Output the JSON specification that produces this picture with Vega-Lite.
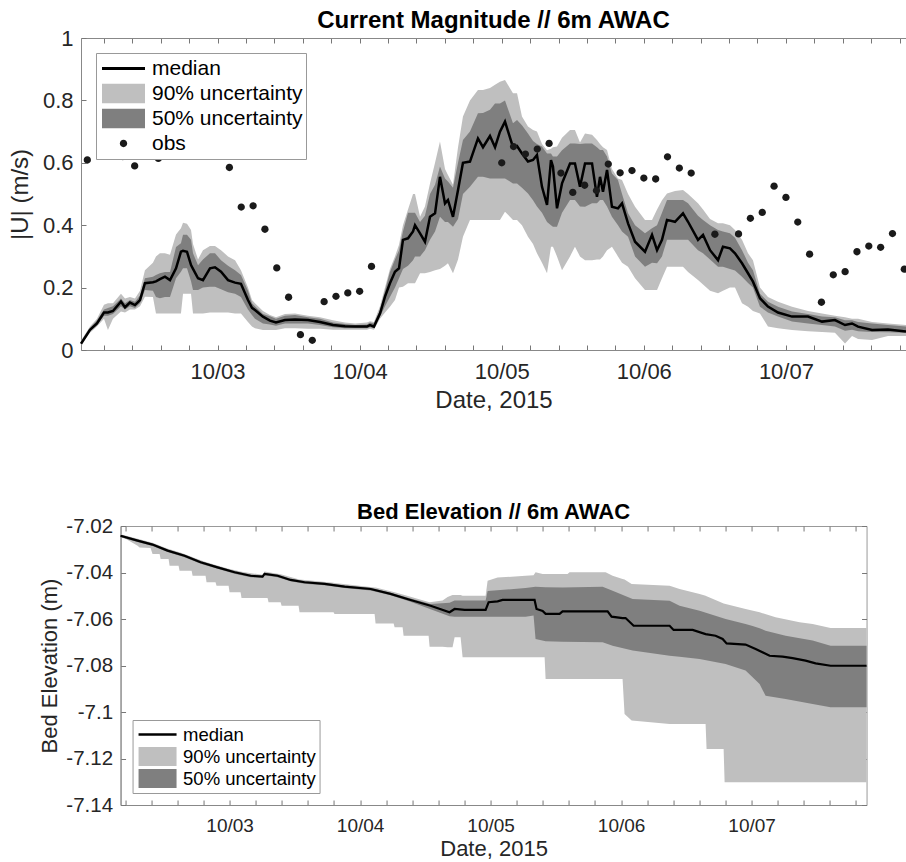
{
"$schema": "https://vega.github.io/schema/vega-lite/v6.json",
"background": "white",
"padding": {"left": 8, "top": 9, "right": 0, "bottom": 0},
"spacing": 88,
"center": true,
"resolve": {"scale": {"color": "independent", "shape": "independent"}, "legend": {"color": "independent", "shape": "independent"}},
"config": {
  "font": "Liberation Sans",
  "axis": {"grid": false, "domainColor": "#888", "tickColor": "#777", "tickWidth": 1, "labelColor": "#262626", "titleColor": "#262626", "titleFontWeight": "normal", "tickSize": -5, "labelFont": "Liberation Sans", "titleFont": "Liberation Sans", "labelOverlap": false, "labelFlush": false, "zindex": 1},
  "legend": {"labelFont": "Liberation Sans", "labelColor": "#000", "labelLimit": 400, "symbolStrokeWidth": 0, "rowPadding": 0, "fillColor": "white", "strokeColor": "#999", "direction": "vertical", "title": null}
},
"datasets": {
"top": [
{"t":"2015-10-02T00:56","med":0.02,"lo90":0.015,"lo50":0.018,"hi50":0.025,"hi90":0.03},
{"t":"2015-10-02T02:27","med":0.065,"lo90":0.055,"lo50":0.06,"hi50":0.07,"hi90":0.075},
{"t":"2015-10-02T03:38","med":0.085,"lo90":0.075,"lo50":0.08,"hi50":0.095,"hi90":0.1},
{"t":"2015-10-02T04:49","med":0.12,"lo90":0.1,"lo50":0.11,"hi50":0.13,"hi90":0.145},
{"t":"2015-10-02T05:29","med":0.12,"lo90":0.064,"lo50":0.11,"hi50":0.135,"hi90":0.15},
{"t":"2015-10-02T06:20","med":0.125,"lo90":0.1,"lo50":0.115,"hi50":0.14,"hi90":0.15},
{"t":"2015-10-02T07:41","med":0.155,"lo90":0.123,"lo50":0.14,"hi50":0.165,"hi90":0.18},
{"t":"2015-10-02T08:22","med":0.137,"lo90":0.12,"lo50":0.13,"hi50":0.15,"hi90":0.165},
{"t":"2015-10-02T09:12","med":0.152,"lo90":0.13,"lo50":0.14,"hi50":0.16,"hi90":0.17},
{"t":"2015-10-02T10:03","med":0.144,"lo90":0.13,"lo50":0.135,"hi50":0.155,"hi90":0.165},
{"t":"2015-10-02T10:54","med":0.16,"lo90":0.14,"lo50":0.15,"hi50":0.175,"hi90":0.19},
{"t":"2015-10-02T11:44","med":0.214,"lo90":0.171,"lo50":0.192,"hi50":0.23,"hi90":0.256},
{"t":"2015-10-02T13:05","med":0.217,"lo90":0.17,"lo50":0.19,"hi50":0.235,"hi90":0.28},
{"t":"2015-10-02T13:36","med":0.22,"lo90":0.117,"lo50":0.17,"hi50":0.24,"hi90":0.3},
{"t":"2015-10-02T14:16","med":0.227,"lo90":0.117,"lo50":0.166,"hi50":0.246,"hi90":0.31},
{"t":"2015-10-02T15:07","med":0.235,"lo90":0.117,"lo50":0.17,"hi50":0.25,"hi90":0.31},
{"t":"2015-10-02T15:58","med":0.224,"lo90":0.117,"lo50":0.17,"hi50":0.25,"hi90":0.305},
{"t":"2015-10-02T16:59","med":0.262,"lo90":0.117,"lo50":0.23,"hi50":0.33,"hi90":0.37},
{"t":"2015-10-02T17:49","med":0.315,"lo90":0.117,"lo50":0.251,"hi50":0.342,"hi90":0.39},
{"t":"2015-10-02T18:10","med":0.318,"lo90":0.18,"lo50":0.262,"hi50":0.369,"hi90":0.408},
{"t":"2015-10-02T18:50","med":0.315,"lo90":0.18,"lo50":0.262,"hi50":0.369,"hi90":0.405},
{"t":"2015-10-02T19:31","med":0.272,"lo90":0.18,"lo50":0.22,"hi50":0.353,"hi90":0.385},
{"t":"2015-10-02T19:51","med":0.26,"lo90":0.117,"lo50":0.192,"hi50":0.31,"hi90":0.34},
{"t":"2015-10-02T20:42","med":0.23,"lo90":0.117,"lo50":0.192,"hi50":0.272,"hi90":0.29},
{"t":"2015-10-02T21:32","med":0.224,"lo90":0.117,"lo50":0.2,"hi50":0.29,"hi90":0.32},
{"t":"2015-10-02T22:43","med":0.262,"lo90":0.12,"lo50":0.203,"hi50":0.31,"hi90":0.333},
{"t":"2015-10-02T23:34","med":0.265,"lo90":0.12,"lo50":0.203,"hi50":0.31,"hi90":0.333},
{"t":"2015-10-03T00:35","med":0.251,"lo90":0.12,"lo50":0.195,"hi50":0.288,"hi90":0.32},
{"t":"2015-10-03T01:46","med":0.224,"lo90":0.12,"lo50":0.185,"hi50":0.27,"hi90":0.3},
{"t":"2015-10-03T02:57","med":0.216,"lo90":0.117,"lo50":0.18,"hi50":0.256,"hi90":0.288},
{"t":"2015-10-03T03:57","med":0.212,"lo90":0.117,"lo50":0.17,"hi50":0.24,"hi90":0.256},
{"t":"2015-10-03T05:08","med":0.16,"lo90":0.09,"lo50":0.13,"hi50":0.19,"hi90":0.2},
{"t":"2015-10-03T05:49","med":0.135,"lo90":0.075,"lo50":0.112,"hi50":0.15,"hi90":0.16},
{"t":"2015-10-03T06:19","med":0.128,"lo90":0.07,"lo50":0.1,"hi50":0.14,"hi90":0.15},
{"t":"2015-10-03T07:40","med":0.107,"lo90":0.064,"lo50":0.085,"hi50":0.115,"hi90":0.125},
{"t":"2015-10-03T08:51","med":0.094,"lo90":0.064,"lo50":0.082,"hi50":0.108,"hi90":0.112},
{"t":"2015-10-03T09:52","med":0.088,"lo90":0.064,"lo50":0.078,"hi50":0.1,"hi90":0.105},
{"t":"2015-10-03T11:23","med":0.096,"lo90":0.07,"lo50":0.085,"hi50":0.11,"hi90":0.115},
{"t":"2015-10-03T13:05","med":0.098,"lo90":0.07,"lo50":0.085,"hi50":0.112,"hi90":0.117},
{"t":"2015-10-03T15:16","med":0.096,"lo90":0.068,"lo50":0.085,"hi50":0.105,"hi90":0.11},
{"t":"2015-10-03T17:18","med":0.09,"lo90":0.068,"lo50":0.08,"hi50":0.1,"hi90":0.105},
{"t":"2015-10-03T19:30","med":0.08,"lo90":0.065,"lo50":0.073,"hi50":0.088,"hi90":0.095},
{"t":"2015-10-03T21:31","med":0.076,"lo90":0.065,"lo50":0.07,"hi50":0.083,"hi90":0.088},
{"t":"2015-10-03T23:13","med":0.075,"lo90":0.065,"lo50":0.07,"hi50":0.08,"hi90":0.085},
{"t":"2015-10-04T01:14","med":0.075,"lo90":0.065,"lo50":0.07,"hi50":0.082,"hi90":0.088},
{"t":"2015-10-04T01:45","med":0.08,"lo90":0.068,"lo50":0.073,"hi50":0.088,"hi90":0.092},
{"t":"2015-10-04T02:25","med":0.075,"lo90":0.065,"lo50":0.07,"hi50":0.085,"hi90":0.09},
{"t":"2015-10-04T03:26","med":0.117,"lo90":0.1,"lo50":0.107,"hi50":0.128,"hi90":0.14},
{"t":"2015-10-04T04:17","med":0.171,"lo90":0.12,"lo50":0.14,"hi50":0.19,"hi90":0.2},
{"t":"2015-10-04T05:07","med":0.214,"lo90":0.139,"lo50":0.17,"hi50":0.25,"hi90":0.26},
{"t":"2015-10-04T05:58","med":0.251,"lo90":0.16,"lo50":0.2,"hi50":0.29,"hi90":0.3},
{"t":"2015-10-04T06:39","med":0.262,"lo90":0.2,"lo50":0.23,"hi50":0.32,"hi90":0.337},
{"t":"2015-10-04T07:19","med":0.353,"lo90":0.203,"lo50":0.26,"hi50":0.38,"hi90":0.4},
{"t":"2015-10-04T08:10","med":0.358,"lo90":0.214,"lo50":0.27,"hi50":0.44,"hi90":0.45},
{"t":"2015-10-04T09:01","med":0.38,"lo90":0.214,"lo50":0.288,"hi50":0.44,"hi90":0.5},
{"t":"2015-10-04T09:21","med":0.4,"lo90":0.214,"lo50":0.3,"hi50":0.44,"hi90":0.5},
{"t":"2015-10-04T10:12","med":0.374,"lo90":0.246,"lo50":0.3,"hi50":0.41,"hi90":0.427},
{"t":"2015-10-04T11:02","med":0.347,"lo90":0.246,"lo50":0.32,"hi50":0.43,"hi90":0.46},
{"t":"2015-10-04T11:53","med":0.427,"lo90":0.25,"lo50":0.353,"hi50":0.5,"hi90":0.534},
{"t":"2015-10-04T12:44","med":0.438,"lo90":0.256,"lo50":0.38,"hi50":0.53,"hi90":0.6},
{"t":"2015-10-04T13:34","med":0.555,"lo90":0.26,"lo50":0.427,"hi50":0.588,"hi90":0.668},
{"t":"2015-10-04T14:25","med":0.47,"lo90":0.27,"lo50":0.41,"hi50":0.55,"hi90":0.58},
{"t":"2015-10-04T14:55","med":0.481,"lo90":0.278,"lo50":0.41,"hi50":0.54,"hi90":0.561},
{"t":"2015-10-04T15:46","med":0.427,"lo90":0.246,"lo50":0.395,"hi50":0.52,"hi90":0.53},
{"t":"2015-10-04T16:37","med":0.513,"lo90":0.29,"lo50":0.42,"hi50":0.6,"hi90":0.65},
{"t":"2015-10-04T17:27","med":0.6,"lo90":0.363,"lo50":0.5,"hi50":0.673,"hi90":0.748},
{"t":"2015-10-04T18:38","med":0.604,"lo90":0.417,"lo50":0.523,"hi50":0.7,"hi90":0.8},
{"t":"2015-10-04T19:59","med":0.678,"lo90":0.417,"lo50":0.555,"hi50":0.759,"hi90":0.833},
{"t":"2015-10-04T20:50","med":0.65,"lo90":0.417,"lo50":0.555,"hi50":0.76,"hi90":0.833},
{"t":"2015-10-04T22:01","med":0.686,"lo90":0.417,"lo50":0.55,"hi50":0.77,"hi90":0.84},
{"t":"2015-10-04T22:52","med":0.65,"lo90":0.417,"lo50":0.55,"hi50":0.79,"hi90":0.85},
{"t":"2015-10-04T23:42","med":0.7,"lo90":0.417,"lo50":0.55,"hi50":0.79,"hi90":0.86},
{"t":"2015-10-05T00:33","med":0.732,"lo90":0.443,"lo50":0.55,"hi50":0.8,"hi90":0.865},
{"t":"2015-10-05T01:54","med":0.65,"lo90":0.417,"lo50":0.534,"hi50":0.727,"hi90":0.823},
{"t":"2015-10-05T02:35","med":0.654,"lo90":0.417,"lo50":0.534,"hi50":0.737,"hi90":0.823},
{"t":"2015-10-05T03:25","med":0.63,"lo90":0.4,"lo50":0.52,"hi50":0.72,"hi90":0.748},
{"t":"2015-10-05T04:26","med":0.604,"lo90":0.363,"lo50":0.502,"hi50":0.694,"hi90":0.716},
{"t":"2015-10-05T05:17","med":0.609,"lo90":0.34,"lo50":0.48,"hi50":0.67,"hi90":0.705},
{"t":"2015-10-05T05:57","med":0.625,"lo90":0.31,"lo50":0.46,"hi50":0.66,"hi90":0.7},
{"t":"2015-10-05T06:48","med":0.523,"lo90":0.28,"lo50":0.44,"hi50":0.652,"hi90":0.66},
{"t":"2015-10-05T07:39","med":0.465,"lo90":0.246,"lo50":0.41,"hi50":0.63,"hi90":0.64},
{"t":"2015-10-05T08:19","med":0.609,"lo90":0.331,"lo50":0.4,"hi50":0.63,"hi90":0.645},
{"t":"2015-10-05T08:39","med":0.588,"lo90":0.331,"lo50":0.395,"hi50":0.62,"hi90":0.65},
{"t":"2015-10-05T09:20","med":0.454,"lo90":0.3,"lo50":0.395,"hi50":0.62,"hi90":0.652},
{"t":"2015-10-05T10:11","med":0.534,"lo90":0.256,"lo50":0.44,"hi50":0.64,"hi90":0.68},
{"t":"2015-10-05T11:32","med":0.598,"lo90":0.3,"lo50":0.481,"hi50":0.662,"hi90":0.705},
{"t":"2015-10-05T12:22","med":0.598,"lo90":0.331,"lo50":0.481,"hi50":0.662,"hi90":0.705},
{"t":"2015-10-05T13:13","med":0.523,"lo90":0.3,"lo50":0.46,"hi50":0.66,"hi90":0.665},
{"t":"2015-10-05T14:04","med":0.598,"lo90":0.288,"lo50":0.459,"hi50":0.662,"hi90":0.694},
{"t":"2015-10-05T15:15","med":0.598,"lo90":0.288,"lo50":0.47,"hi50":0.662,"hi90":0.69},
{"t":"2015-10-05T16:05","med":0.491,"lo90":0.29,"lo50":0.47,"hi50":0.65,"hi90":0.673},
{"t":"2015-10-05T16:36","med":0.555,"lo90":0.29,"lo50":0.481,"hi50":0.641,"hi90":0.66},
{"t":"2015-10-05T17:06","med":0.507,"lo90":0.3,"lo50":0.481,"hi50":0.641,"hi90":0.65},
{"t":"2015-10-05T17:47","med":0.577,"lo90":0.32,"lo50":0.46,"hi50":0.62,"hi90":0.641},
{"t":"2015-10-05T18:37","med":0.459,"lo90":0.331,"lo50":0.427,"hi50":0.566,"hi90":0.58},
{"t":"2015-10-05T19:38","med":0.454,"lo90":0.3,"lo50":0.4,"hi50":0.545,"hi90":0.55},
{"t":"2015-10-05T20:19","med":0.47,"lo90":0.28,"lo50":0.38,"hi50":0.5,"hi90":0.545},
{"t":"2015-10-05T21:20","med":0.406,"lo90":0.267,"lo50":0.363,"hi50":0.438,"hi90":0.5},
{"t":"2015-10-05T22:31","med":0.347,"lo90":0.23,"lo50":0.3,"hi50":0.4,"hi90":0.459},
{"t":"2015-10-06T00:12","med":0.315,"lo90":0.192,"lo50":0.267,"hi50":0.374,"hi90":0.417},
{"t":"2015-10-06T01:23","med":0.369,"lo90":0.192,"lo50":0.28,"hi50":0.39,"hi90":0.417},
{"t":"2015-10-06T02:14","med":0.32,"lo90":0.192,"lo50":0.278,"hi50":0.4,"hi90":0.45},
{"t":"2015-10-06T03:04","med":0.353,"lo90":0.23,"lo50":0.3,"hi50":0.44,"hi90":0.48},
{"t":"2015-10-06T03:55","med":0.417,"lo90":0.267,"lo50":0.353,"hi50":0.481,"hi90":0.502},
{"t":"2015-10-06T05:16","med":0.411,"lo90":0.267,"lo50":0.353,"hi50":0.481,"hi90":0.51},
{"t":"2015-10-06T06:37","med":0.438,"lo90":0.267,"lo50":0.353,"hi50":0.481,"hi90":0.513},
{"t":"2015-10-06T07:28","med":0.411,"lo90":0.25,"lo50":0.353,"hi50":0.47,"hi90":0.5},
{"t":"2015-10-06T09:09","med":0.353,"lo90":0.224,"lo50":0.32,"hi50":0.43,"hi90":0.47},
{"t":"2015-10-06T10:00","med":0.369,"lo90":0.21,"lo50":0.31,"hi50":0.417,"hi90":0.45},
{"t":"2015-10-06T11:11","med":0.32,"lo90":0.19,"lo50":0.29,"hi50":0.4,"hi90":0.42},
{"t":"2015-10-06T12:32","med":0.288,"lo90":0.182,"lo50":0.267,"hi50":0.385,"hi90":0.406},
{"t":"2015-10-06T13:22","med":0.331,"lo90":0.19,"lo50":0.267,"hi50":0.38,"hi90":0.406},
{"t":"2015-10-06T14:33","med":0.326,"lo90":0.2,"lo50":0.26,"hi50":0.374,"hi90":0.4},
{"t":"2015-10-06T15:24","med":0.31,"lo90":0.2,"lo50":0.255,"hi50":0.36,"hi90":0.385},
{"t":"2015-10-06T16:35","med":0.278,"lo90":0.15,"lo50":0.235,"hi50":0.32,"hi90":0.353},
{"t":"2015-10-06T17:36","med":0.246,"lo90":0.139,"lo50":0.215,"hi50":0.28,"hi90":0.31},
{"t":"2015-10-06T18:26","med":0.219,"lo90":0.125,"lo50":0.2,"hi50":0.256,"hi90":0.288},
{"t":"2015-10-06T19:37","med":0.166,"lo90":0.117,"lo50":0.139,"hi50":0.18,"hi90":0.2},
{"t":"2015-10-06T20:58","med":0.139,"lo90":0.075,"lo50":0.12,"hi50":0.155,"hi90":0.17},
{"t":"2015-10-06T22:40","med":0.12,"lo90":0.07,"lo50":0.107,"hi50":0.139,"hi90":0.155},
{"t":"2015-10-07T01:02","med":0.107,"lo90":0.064,"lo50":0.091,"hi50":0.123,"hi90":0.139},
{"t":"2015-10-07T03:44","med":0.107,"lo90":0.06,"lo50":0.085,"hi50":0.115,"hi90":0.125},
{"t":"2015-10-07T06:06","med":0.091,"lo90":0.058,"lo50":0.08,"hi50":0.107,"hi90":0.117},
{"t":"2015-10-07T08:17","med":0.096,"lo90":0.055,"lo50":0.075,"hi50":0.105,"hi90":0.11},
{"t":"2015-10-07T09:59","med":0.08,"lo90":0.021,"lo50":0.062,"hi50":0.095,"hi90":0.105},
{"t":"2015-10-07T11:10","med":0.085,"lo90":0.045,"lo50":0.065,"hi50":0.095,"hi90":0.1},
{"t":"2015-10-07T12:11","med":0.075,"lo90":0.035,"lo50":0.06,"hi50":0.09,"hi90":0.1},
{"t":"2015-10-07T14:33","med":0.064,"lo90":0.032,"lo50":0.058,"hi50":0.085,"hi90":0.09},
{"t":"2015-10-07T17:15","med":0.066,"lo90":0.045,"lo50":0.057,"hi50":0.08,"hi90":0.085},
{"t":"2015-10-07T20:17","med":0.059,"lo90":0.045,"lo50":0.055,"hi50":0.075,"hi90":0.08}
],
"obs": [
{"t":"2015-10-02T02:00","v":0.609},
{"t":"2015-10-02T08:00","v":0.62},
{"t":"2015-10-02T10:00","v":0.59},
{"t":"2015-10-02T14:00","v":0.614},
{"t":"2015-10-03T02:00","v":0.585},
{"t":"2015-10-03T04:00","v":0.458},
{"t":"2015-10-03T06:00","v":0.462},
{"t":"2015-10-03T08:00","v":0.387},
{"t":"2015-10-03T10:00","v":0.263},
{"t":"2015-10-03T12:00","v":0.169},
{"t":"2015-10-03T14:00","v":0.049},
{"t":"2015-10-03T16:00","v":0.031},
{"t":"2015-10-03T18:00","v":0.155},
{"t":"2015-10-03T20:00","v":0.172},
{"t":"2015-10-03T22:00","v":0.183},
{"t":"2015-10-04T00:00","v":0.188},
{"t":"2015-10-04T02:00","v":0.268},
{"t":"2015-10-05T00:00","v":0.6},
{"t":"2015-10-05T02:00","v":0.652},
{"t":"2015-10-05T04:00","v":0.628},
{"t":"2015-10-05T06:00","v":0.644},
{"t":"2015-10-05T08:00","v":0.662},
{"t":"2015-10-05T10:00","v":0.567},
{"t":"2015-10-05T12:00","v":0.505},
{"t":"2015-10-05T14:00","v":0.528},
{"t":"2015-10-05T16:00","v":0.511},
{"t":"2015-10-05T18:00","v":0.596},
{"t":"2015-10-05T20:00","v":0.568},
{"t":"2015-10-05T22:00","v":0.575},
{"t":"2015-10-06T00:00","v":0.551},
{"t":"2015-10-06T02:00","v":0.548},
{"t":"2015-10-06T04:00","v":0.619},
{"t":"2015-10-06T06:00","v":0.583},
{"t":"2015-10-06T08:00","v":0.567},
{"t":"2015-10-06T12:00","v":0.371},
{"t":"2015-10-06T16:00","v":0.372},
{"t":"2015-10-06T18:00","v":0.422},
{"t":"2015-10-06T20:00","v":0.441},
{"t":"2015-10-06T22:00","v":0.525},
{"t":"2015-10-07T00:00","v":0.489},
{"t":"2015-10-07T02:00","v":0.41},
{"t":"2015-10-07T04:00","v":0.307},
{"t":"2015-10-07T06:00","v":0.153},
{"t":"2015-10-07T08:00","v":0.241},
{"t":"2015-10-07T10:00","v":0.251},
{"t":"2015-10-07T12:00","v":0.315},
{"t":"2015-10-07T14:00","v":0.333},
{"t":"2015-10-07T16:00","v":0.329},
{"t":"2015-10-07T18:00","v":0.373},
{"t":"2015-10-07T20:00","v":0.259}
],
"botMed": [
{"t":"2015-10-02T03:57","v":-7.0242},
{"t":"2015-10-02T07:05","v":-7.0263},
{"t":"2015-10-02T09:50","v":-7.028},
{"t":"2015-10-02T12:36","v":-7.0306},
{"t":"2015-10-02T15:43","v":-7.0328},
{"t":"2015-10-02T18:40","v":-7.0356},
{"t":"2015-10-02T21:47","v":-7.0378},
{"t":"2015-10-03T00:55","v":-7.0399},
{"t":"2015-10-03T03:52","v":-7.0414},
{"t":"2015-10-03T06:04","v":-7.0418},
{"t":"2015-10-03T06:26","v":-7.0406},
{"t":"2015-10-03T08:50","v":-7.0414},
{"t":"2015-10-03T11:13","v":-7.0432},
{"t":"2015-10-03T13:47","v":-7.0442},
{"t":"2015-10-03T17:28","v":-7.0449},
{"t":"2015-10-03T21:09","v":-7.0461},
{"t":"2015-10-04T01:56","v":-7.0471},
{"t":"2015-10-04T05:36","v":-7.0492},
{"t":"2015-10-04T09:17","v":-7.0518},
{"t":"2015-10-04T12:58","v":-7.0543},
{"t":"2015-10-04T16:27","v":-7.0571},
{"t":"2015-10-04T17:23","v":-7.0557},
{"t":"2015-10-04T19:13","v":-7.0561},
{"t":"2015-10-04T23:05","v":-7.0561},
{"t":"2015-10-04T23:38","v":-7.0528},
{"t":"2015-10-05T01:17","v":-7.0524},
{"t":"2015-10-05T02:12","v":-7.0518},
{"t":"2015-10-05T08:05","v":-7.0518},
{"t":"2015-10-05T08:27","v":-7.0557},
{"t":"2015-10-05T09:34","v":-7.0565},
{"t":"2015-10-05T10:07","v":-7.0578},
{"t":"2015-10-05T12:41","v":-7.0578},
{"t":"2015-10-05T13:14","v":-7.0567},
{"t":"2015-10-05T21:31","v":-7.0567},
{"t":"2015-10-05T22:15","v":-7.059},
{"t":"2015-10-06T00:16","v":-7.0596},
{"t":"2015-10-06T00:49","v":-7.0596},
{"t":"2015-10-06T02:18","v":-7.0629},
{"t":"2015-10-06T08:55","v":-7.0629},
{"t":"2015-10-06T09:39","v":-7.0647},
{"t":"2015-10-06T13:09","v":-7.0647},
{"t":"2015-10-06T15:32","v":-7.0665},
{"t":"2015-10-06T17:22","v":-7.0672},
{"t":"2015-10-06T18:40","v":-7.0686},
{"t":"2015-10-06T19:24","v":-7.0705},
{"t":"2015-10-06T22:53","v":-7.071},
{"t":"2015-10-07T00:44","v":-7.0729},
{"t":"2015-10-07T03:18","v":-7.0758},
{"t":"2015-10-07T05:42","v":-7.0762},
{"t":"2015-10-07T07:32","v":-7.0768},
{"t":"2015-10-07T09:55","v":-7.0779},
{"t":"2015-10-07T11:46","v":-7.0791},
{"t":"2015-10-07T14:31","v":-7.0801},
{"t":"2015-10-07T21:08","v":-7.0801}
],
"bot90": [
{"t":"2015-10-02T03:57","lo":-7.0242,"hi":-7.0236},
{"t":"2015-10-02T07:05","lo":-7.0285,"hi":-7.0255},
{"t":"2015-10-02T07:27","lo":-7.0292,"hi":-7.0257},
{"t":"2015-10-02T09:28","lo":-7.0295,"hi":-7.027},
{"t":"2015-10-02T09:50","lo":-7.032,"hi":-7.0272},
{"t":"2015-10-02T11:08","lo":-7.032,"hi":-7.0284},
{"t":"2015-10-02T11:19","lo":-7.0342,"hi":-7.0286},
{"t":"2015-10-02T12:47","lo":-7.0342,"hi":-7.0299},
{"t":"2015-10-02T12:58","lo":-7.0371,"hi":-7.03},
{"t":"2015-10-02T14:37","lo":-7.0371,"hi":-7.0312},
{"t":"2015-10-02T14:48","lo":-7.0392,"hi":-7.0313},
{"t":"2015-10-02T17:01","lo":-7.0392,"hi":-7.0332},
{"t":"2015-10-02T17:12","lo":-7.0414,"hi":-7.0334},
{"t":"2015-10-02T19:35","lo":-7.0414,"hi":-7.0355},
{"t":"2015-10-02T19:46","lo":-7.0442,"hi":-7.0356},
{"t":"2015-10-02T21:25","lo":-7.0442,"hi":-7.0368},
{"t":"2015-10-02T21:36","lo":-7.0457,"hi":-7.0369},
{"t":"2015-10-02T23:49","lo":-7.0457,"hi":-7.0384},
{"t":"2015-10-03T00:00","lo":-7.0485,"hi":-7.0385},
{"t":"2015-10-03T02:01","lo":-7.0485,"hi":-7.0396},
{"t":"2015-10-03T02:12","lo":-7.051,"hi":-7.0397},
{"t":"2015-10-03T06:04","lo":-7.051,"hi":-7.041},
{"t":"2015-10-03T06:26","lo":-7.051,"hi":-7.0396},
{"t":"2015-10-03T06:59","lo":-7.051,"hi":-7.0398},
{"t":"2015-10-03T07:10","lo":-7.0528,"hi":-7.0399},
{"t":"2015-10-03T09:23","lo":-7.0528,"hi":-7.0408},
{"t":"2015-10-03T09:34","lo":-7.0543,"hi":-7.0409},
{"t":"2015-10-03T12:41","lo":-7.0543,"hi":-7.0429},
{"t":"2015-10-03T12:52","lo":-7.0571,"hi":-7.043},
{"t":"2015-10-03T19:07","lo":-7.0571,"hi":-7.0444},
{"t":"2015-10-03T19:18","lo":-7.0578,"hi":-7.0445},
{"t":"2015-10-04T02:40","lo":-7.0578,"hi":-7.0464},
{"t":"2015-10-04T02:51","lo":-7.0619,"hi":-7.0465},
{"t":"2015-10-04T06:10","lo":-7.0619,"hi":-7.0484},
{"t":"2015-10-04T06:21","lo":-7.0636,"hi":-7.0485},
{"t":"2015-10-04T07:49","lo":-7.0636,"hi":-7.0495},
{"t":"2015-10-04T08:00","lo":-7.0672,"hi":-7.0496},
{"t":"2015-10-04T12:36","lo":-7.0672,"hi":-7.0527},
{"t":"2015-10-04T12:47","lo":-7.0719,"hi":-7.0528},
{"t":"2015-10-04T15:10","lo":-7.0719,"hi":-7.052},
{"t":"2015-10-04T16:05","lo":-7.0722,"hi":-7.0505},
{"t":"2015-10-04T17:00","lo":-7.0722,"hi":-7.0497},
{"t":"2015-10-04T17:23","lo":-7.0679,"hi":-7.0497},
{"t":"2015-10-04T18:29","lo":-7.0679,"hi":-7.0497},
{"t":"2015-10-04T18:51","lo":-7.0765,"hi":-7.05},
{"t":"2015-10-04T23:05","lo":-7.0765,"hi":-7.05},
{"t":"2015-10-04T23:27","lo":-7.0765,"hi":-7.0435},
{"t":"2015-10-05T01:17","lo":-7.0765,"hi":-7.0422},
{"t":"2015-10-05T06:26","lo":-7.0765,"hi":-7.0414},
{"t":"2015-10-05T07:54","lo":-7.0765,"hi":-7.0412},
{"t":"2015-10-05T08:16","lo":-7.0765,"hi":-7.0399},
{"t":"2015-10-05T09:34","lo":-7.0765,"hi":-7.0406},
{"t":"2015-10-05T09:56","lo":-7.0765,"hi":-7.0406},
{"t":"2015-10-05T10:07","lo":-7.0858,"hi":-7.0406},
{"t":"2015-10-05T14:09","lo":-7.0858,"hi":-7.0406},
{"t":"2015-10-05T14:31","lo":-7.0858,"hi":-7.0399},
{"t":"2015-10-05T21:09","lo":-7.0858,"hi":-7.0399},
{"t":"2015-10-05T22:26","lo":-7.0858,"hi":-7.0414},
{"t":"2015-10-06T00:16","lo":-7.0858,"hi":-7.0428},
{"t":"2015-10-06T00:38","lo":-7.1009,"hi":-7.043},
{"t":"2015-10-06T01:56","lo":-7.1037,"hi":-7.0449},
{"t":"2015-10-06T08:55","lo":-7.1052,"hi":-7.0457},
{"t":"2015-10-06T10:45","lo":-7.1052,"hi":-7.0471},
{"t":"2015-10-06T14:26","lo":-7.1052,"hi":-7.0492},
{"t":"2015-10-06T15:32","lo":-7.1052,"hi":-7.05},
{"t":"2015-10-06T15:43","lo":-7.1159,"hi":-7.0502},
{"t":"2015-10-06T16:16","lo":-7.1159,"hi":-7.0507},
{"t":"2015-10-06T18:51","lo":-7.1159,"hi":-7.0533},
{"t":"2015-10-06T19:02","lo":-7.1302,"hi":-7.0534},
{"t":"2015-10-06T22:53","lo":-7.1302,"hi":-7.0557},
{"t":"2015-10-07T01:28","lo":-7.1302,"hi":-7.0571},
{"t":"2015-10-07T04:24","lo":-7.1302,"hi":-7.0593},
{"t":"2015-10-07T08:49","lo":-7.1302,"hi":-7.0614},
{"t":"2015-10-07T11:13","lo":-7.1302,"hi":-7.0621},
{"t":"2015-10-07T14:31","lo":-7.1302,"hi":-7.0639},
{"t":"2015-10-07T21:08","lo":-7.1302,"hi":-7.0639}
],
"bot50": [
{"t":"2015-10-02T03:57","lo":-7.0248,"hi":-7.0238},
{"t":"2015-10-02T07:05","lo":-7.0269,"hi":-7.0258},
{"t":"2015-10-02T09:50","lo":-7.0286,"hi":-7.0275},
{"t":"2015-10-02T12:36","lo":-7.0312,"hi":-7.0301},
{"t":"2015-10-02T15:43","lo":-7.0334,"hi":-7.0323},
{"t":"2015-10-02T18:40","lo":-7.0362,"hi":-7.0351},
{"t":"2015-10-02T21:47","lo":-7.0384,"hi":-7.0373},
{"t":"2015-10-03T00:55","lo":-7.0405,"hi":-7.0394},
{"t":"2015-10-03T03:52","lo":-7.042,"hi":-7.0409},
{"t":"2015-10-03T06:04","lo":-7.0424,"hi":-7.0413},
{"t":"2015-10-03T06:26","lo":-7.0412,"hi":-7.0401},
{"t":"2015-10-03T08:50","lo":-7.042,"hi":-7.0409},
{"t":"2015-10-03T11:13","lo":-7.0438,"hi":-7.0427},
{"t":"2015-10-03T13:47","lo":-7.0448,"hi":-7.0437},
{"t":"2015-10-03T17:28","lo":-7.0455,"hi":-7.0444},
{"t":"2015-10-03T21:09","lo":-7.0467,"hi":-7.0456},
{"t":"2015-10-04T01:56","lo":-7.0477,"hi":-7.0466},
{"t":"2015-10-04T05:36","lo":-7.0498,"hi":-7.0487},
{"t":"2015-10-04T09:17","lo":-7.0526,"hi":-7.0512},
{"t":"2015-10-04T12:58","lo":-7.0558,"hi":-7.0535},
{"t":"2015-10-04T16:27","lo":-7.0588,"hi":-7.053},
{"t":"2015-10-04T17:23","lo":-7.059,"hi":-7.052},
{"t":"2015-10-04T23:05","lo":-7.059,"hi":-7.052},
{"t":"2015-10-04T23:27","lo":-7.059,"hi":-7.048},
{"t":"2015-10-05T06:26","lo":-7.059,"hi":-7.0467},
{"t":"2015-10-05T07:54","lo":-7.0585,"hi":-7.0462},
{"t":"2015-10-05T08:16","lo":-7.0686,"hi":-7.0461},
{"t":"2015-10-05T10:07","lo":-7.0696,"hi":-7.0463},
{"t":"2015-10-05T13:14","lo":-7.0698,"hi":-7.0465},
{"t":"2015-10-05T20:36","lo":-7.07,"hi":-7.0461},
{"t":"2015-10-05T22:26","lo":-7.0715,"hi":-7.0478},
{"t":"2015-10-06T02:07","lo":-7.0736,"hi":-7.0514},
{"t":"2015-10-06T08:55","lo":-7.0758,"hi":-7.0521},
{"t":"2015-10-06T10:45","lo":-7.0762,"hi":-7.0543},
{"t":"2015-10-06T14:26","lo":-7.0772,"hi":-7.0564},
{"t":"2015-10-06T19:13","lo":-7.0794,"hi":-7.06},
{"t":"2015-10-06T22:53","lo":-7.0822,"hi":-7.0621},
{"t":"2015-10-07T00:11","lo":-7.0851,"hi":-7.063},
{"t":"2015-10-07T01:28","lo":-7.088,"hi":-7.064},
{"t":"2015-10-07T02:34","lo":-7.093,"hi":-7.065},
{"t":"2015-10-07T06:15","lo":-7.0944,"hi":-7.0672},
{"t":"2015-10-07T11:13","lo":-7.0966,"hi":-7.0693},
{"t":"2015-10-07T14:31","lo":-7.098,"hi":-7.0715},
{"t":"2015-10-07T21:08","lo":-7.098,"hi":-7.0715}
]
},
"vconcat": [
{
  "width": 825, "height": 312,
  "view": {"stroke": null},
  "title": {"text": "Current Magnitude // 6m AWAC", "fontSize": 24, "fontWeight": "bold", "color": "#000", "anchor": "middle", "frame": "group", "baseline": "bottom", "offset": -30, "font": "Liberation Sans"},
  "layer": [
    {"data": {"name": "top"}, "mark": {"type": "area", "opacity": 1},
     "encoding": {
       "x": {"field": "t", "type": "temporal", "scale": {"domain": ["2015-10-02T00:56", "2015-10-07T20:17"]},
             "axis": {"orient": "bottom", "title": "Date, 2015", "labelFontSize": 22, "titleFontSize": 24, "labelPadding": 16, "titlePadding": 6,
               "labelExpr": "hours(datum.value) == 0 && minutes(datum.value) == 0 ? timeFormat(datum.value, '%m/%d') : ''",
               "values": [{"year":2015,"month":10,"date":2,"hours":4,"minutes":48},{"year":2015,"month":10,"date":2,"hours":9,"minutes":36},{"year":2015,"month":10,"date":2,"hours":14,"minutes":24},{"year":2015,"month":10,"date":2,"hours":19,"minutes":12},
                 {"year":2015,"month":10,"date":3},{"year":2015,"month":10,"date":3,"hours":4,"minutes":48},{"year":2015,"month":10,"date":3,"hours":9,"minutes":36},{"year":2015,"month":10,"date":3,"hours":14,"minutes":24},{"year":2015,"month":10,"date":3,"hours":19,"minutes":12},
                 {"year":2015,"month":10,"date":4},{"year":2015,"month":10,"date":4,"hours":4,"minutes":48},{"year":2015,"month":10,"date":4,"hours":9,"minutes":36},{"year":2015,"month":10,"date":4,"hours":14,"minutes":24},{"year":2015,"month":10,"date":4,"hours":19,"minutes":12},
                 {"year":2015,"month":10,"date":5},{"year":2015,"month":10,"date":5,"hours":4,"minutes":48},{"year":2015,"month":10,"date":5,"hours":9,"minutes":36},{"year":2015,"month":10,"date":5,"hours":14,"minutes":24},{"year":2015,"month":10,"date":5,"hours":19,"minutes":12},
                 {"year":2015,"month":10,"date":6},{"year":2015,"month":10,"date":6,"hours":4,"minutes":48},{"year":2015,"month":10,"date":6,"hours":9,"minutes":36},{"year":2015,"month":10,"date":6,"hours":14,"minutes":24},{"year":2015,"month":10,"date":6,"hours":19,"minutes":12},
                 {"year":2015,"month":10,"date":7},{"year":2015,"month":10,"date":7,"hours":4,"minutes":48},{"year":2015,"month":10,"date":7,"hours":9,"minutes":36},{"year":2015,"month":10,"date":7,"hours":14,"minutes":24},{"year":2015,"month":10,"date":7,"hours":19,"minutes":12}]}},
       "y": {"field": "lo90", "type": "quantitative", "scale": {"domain": [0, 1], "nice": false},
             "axis": {"title": "|U| (m/s)", "values": [0, 0.2, 0.4, 0.6, 0.8, 1], "format": "~g", "labelFontSize": 22, "titleFontSize": 24, "labelPadding": 13, "titlePadding": 10}},
       "y2": {"field": "hi90"},
       "color": {"datum": "90% uncertainty", "type": "nominal",
         "scale": {"domain": ["median", "90% uncertainty", "50% uncertainty", "obs"], "range": ["#000000", "#bfbfbf", "#7f7f7f", "#1a1a1a"]},
         "legend": {"orient": "top-left", "offset": 15, "padding": 3, "labelFontSize": 21, "symbolSize": 1849, "clipHeight": 25, "symbolOffset": 3, "labelOffset": 7,
           "encode": {"symbols": {"update": {
             "fill": {"value": {"expr": "datum.value === '90% uncertainty' ? '#bfbfbf' : datum.value === '50% uncertainty' ? '#7f7f7f' : '#000000'"}},
             "opacity": {"value": 1}}}}}}
     }},
    {"data": {"name": "top"}, "mark": {"type": "area", "opacity": 1},
     "encoding": {
       "x": {"field": "t", "type": "temporal",
             "axis": {"orient": "top", "labels": false, "title": null,
               "values": [{"year":2015,"month":10,"date":2,"hours":4,"minutes":48},{"year":2015,"month":10,"date":2,"hours":9,"minutes":36},{"year":2015,"month":10,"date":2,"hours":14,"minutes":24},{"year":2015,"month":10,"date":2,"hours":19,"minutes":12},
                 {"year":2015,"month":10,"date":3},{"year":2015,"month":10,"date":3,"hours":4,"minutes":48},{"year":2015,"month":10,"date":3,"hours":9,"minutes":36},{"year":2015,"month":10,"date":3,"hours":14,"minutes":24},{"year":2015,"month":10,"date":3,"hours":19,"minutes":12},
                 {"year":2015,"month":10,"date":4},{"year":2015,"month":10,"date":4,"hours":4,"minutes":48},{"year":2015,"month":10,"date":4,"hours":9,"minutes":36},{"year":2015,"month":10,"date":4,"hours":14,"minutes":24},{"year":2015,"month":10,"date":4,"hours":19,"minutes":12},
                 {"year":2015,"month":10,"date":5},{"year":2015,"month":10,"date":5,"hours":4,"minutes":48},{"year":2015,"month":10,"date":5,"hours":9,"minutes":36},{"year":2015,"month":10,"date":5,"hours":14,"minutes":24},{"year":2015,"month":10,"date":5,"hours":19,"minutes":12},
                 {"year":2015,"month":10,"date":6},{"year":2015,"month":10,"date":6,"hours":4,"minutes":48},{"year":2015,"month":10,"date":6,"hours":9,"minutes":36},{"year":2015,"month":10,"date":6,"hours":14,"minutes":24},{"year":2015,"month":10,"date":6,"hours":19,"minutes":12},
                 {"year":2015,"month":10,"date":7},{"year":2015,"month":10,"date":7,"hours":4,"minutes":48},{"year":2015,"month":10,"date":7,"hours":9,"minutes":36},{"year":2015,"month":10,"date":7,"hours":14,"minutes":24},{"year":2015,"month":10,"date":7,"hours":19,"minutes":12}]}},
       "y": {"field": "lo50", "type": "quantitative"},
       "y2": {"field": "hi50"},
       "color": {"datum": "50% uncertainty", "type": "nominal"}
     }},
    {"data": {"name": "top"}, "mark": {"type": "line", "strokeWidth": 2.5},
     "encoding": {
       "x": {"field": "t", "type": "temporal", "axis": null},
       "y": {"field": "med", "type": "quantitative"},
       "color": {"datum": "median", "type": "nominal"}
     }},
    {"data": {"name": "obs"}, "mark": {"type": "point", "filled": true, "size": 1849, "opacity": 1},
     "encoding": {
       "x": {"field": "t", "type": "temporal", "axis": null},
       "y": {"field": "v", "type": "quantitative"},
       "color": {"datum": "obs", "type": "nominal"},
       "shape": {"datum": "obs", "type": "nominal",
         "scale": {"domain": ["median", "90% uncertainty", "50% uncertainty", "obs"], "range": ["M-1,-0.07H1V0.07H-1Z", "M-1,-0.45H1V0.45H-1Z", "M-1,-0.45H1V0.45H-1Z", "M0.17,0A0.17,0.17,0,1,1,-0.17,0A0.17,0.17,0,1,1,0.17,0Z"]},
         "legend": {"orient": "top-left", "offset": 15, "padding": 3, "labelFontSize": 21, "symbolSize": 1849, "clipHeight": 25, "symbolOffset": 3, "labelOffset": 7,
           "encode": {"symbols": {"update": {
             "fill": {"value": {"expr": "datum.value === '90% uncertainty' ? '#bfbfbf' : datum.value === '50% uncertainty' ? '#7f7f7f' : '#000000'"}},
             "opacity": {"value": 1}}}}}}
     }}
  ]
},
{
  "width": 746, "height": 279,
  "view": {"stroke": "#999"},
  "resolve": {"axis": {"y": "independent"}},
  "title": {"text": "Bed Elevation // 6m AWAC", "fontSize": 22, "fontWeight": "bold", "color": "#000", "anchor": "middle", "frame": "group", "baseline": "bottom", "offset": -30, "font": "Liberation Sans"},
  "layer": [
    {"data": {"name": "bot90"}, "mark": {"type": "area", "opacity": 1},
     "encoding": {
       "x": {"field": "t", "type": "temporal", "scale": {"domain": ["2015-10-02T03:57", "2015-10-07T21:08"]},
             "axis": {"orient": "bottom", "title": "Date, 2015", "labelFontSize": 19, "titleFontSize": 22, "labelPadding": 16, "titlePadding": 3,
               "labelExpr": "hours(datum.value) == 0 && minutes(datum.value) == 0 ? timeFormat(datum.value, '%m/%d') : ''",
               "values": [{"year":2015,"month":10,"date":2,"hours":4,"minutes":48},{"year":2015,"month":10,"date":2,"hours":9,"minutes":36},{"year":2015,"month":10,"date":2,"hours":14,"minutes":24},{"year":2015,"month":10,"date":2,"hours":19,"minutes":12},
                 {"year":2015,"month":10,"date":3},{"year":2015,"month":10,"date":3,"hours":4,"minutes":48},{"year":2015,"month":10,"date":3,"hours":9,"minutes":36},{"year":2015,"month":10,"date":3,"hours":14,"minutes":24},{"year":2015,"month":10,"date":3,"hours":19,"minutes":12},
                 {"year":2015,"month":10,"date":4},{"year":2015,"month":10,"date":4,"hours":4,"minutes":48},{"year":2015,"month":10,"date":4,"hours":9,"minutes":36},{"year":2015,"month":10,"date":4,"hours":14,"minutes":24},{"year":2015,"month":10,"date":4,"hours":19,"minutes":12},
                 {"year":2015,"month":10,"date":5},{"year":2015,"month":10,"date":5,"hours":4,"minutes":48},{"year":2015,"month":10,"date":5,"hours":9,"minutes":36},{"year":2015,"month":10,"date":5,"hours":14,"minutes":24},{"year":2015,"month":10,"date":5,"hours":19,"minutes":12},
                 {"year":2015,"month":10,"date":6},{"year":2015,"month":10,"date":6,"hours":4,"minutes":48},{"year":2015,"month":10,"date":6,"hours":9,"minutes":36},{"year":2015,"month":10,"date":6,"hours":14,"minutes":24},{"year":2015,"month":10,"date":6,"hours":19,"minutes":12},
                 {"year":2015,"month":10,"date":7},{"year":2015,"month":10,"date":7,"hours":4,"minutes":48},{"year":2015,"month":10,"date":7,"hours":9,"minutes":36},{"year":2015,"month":10,"date":7,"hours":14,"minutes":24},{"year":2015,"month":10,"date":7,"hours":19,"minutes":12}]}},
       "y": {"field": "lo", "type": "quantitative", "scale": {"domain": [-7.14, -7.02], "nice": false, "zero": false},
             "axis": {"orient": "left", "title": "Bed Elevation (m)", "values": [-7.14, -7.12, -7.1, -7.08, -7.06, -7.04, -7.02], "labelExpr": "'-' + format(abs(datum.value), '~g')", "labelFontSize": 20.5, "titleFontSize": 22, "labelPadding": 13, "titlePadding": 4}},
       "y2": {"field": "hi"},
       "color": {"datum": "90% uncertainty", "type": "nominal",
         "scale": {"domain": ["median", "90% uncertainty", "50% uncertainty"], "range": ["#000000", "#bfbfbf", "#7f7f7f"]},
         "legend": {"orient": "bottom-left", "offset": 12, "padding": 3.5, "labelFontSize": 18.5, "symbolSize": 1444, "clipHeight": 22, "symbolOffset": 2.5, "labelOffset": 6.5,
           "encode": {"symbols": {"update": {
             "fill": {"value": {"expr": "datum.value === '90% uncertainty' ? '#bfbfbf' : datum.value === '50% uncertainty' ? '#7f7f7f' : '#000000'"}},
             "opacity": {"value": 1}}}}}}
     }},
    {"data": {"name": "bot50"}, "mark": {"type": "area", "opacity": 1},
     "encoding": {
       "x": {"field": "t", "type": "temporal",
             "axis": {"orient": "top", "labels": false, "title": null, "domain": false,
               "values": [{"year":2015,"month":10,"date":2,"hours":4,"minutes":48},{"year":2015,"month":10,"date":2,"hours":9,"minutes":36},{"year":2015,"month":10,"date":2,"hours":14,"minutes":24},{"year":2015,"month":10,"date":2,"hours":19,"minutes":12},
                 {"year":2015,"month":10,"date":3},{"year":2015,"month":10,"date":3,"hours":4,"minutes":48},{"year":2015,"month":10,"date":3,"hours":9,"minutes":36},{"year":2015,"month":10,"date":3,"hours":14,"minutes":24},{"year":2015,"month":10,"date":3,"hours":19,"minutes":12},
                 {"year":2015,"month":10,"date":4},{"year":2015,"month":10,"date":4,"hours":4,"minutes":48},{"year":2015,"month":10,"date":4,"hours":9,"minutes":36},{"year":2015,"month":10,"date":4,"hours":14,"minutes":24},{"year":2015,"month":10,"date":4,"hours":19,"minutes":12},
                 {"year":2015,"month":10,"date":5},{"year":2015,"month":10,"date":5,"hours":4,"minutes":48},{"year":2015,"month":10,"date":5,"hours":9,"minutes":36},{"year":2015,"month":10,"date":5,"hours":14,"minutes":24},{"year":2015,"month":10,"date":5,"hours":19,"minutes":12},
                 {"year":2015,"month":10,"date":6},{"year":2015,"month":10,"date":6,"hours":4,"minutes":48},{"year":2015,"month":10,"date":6,"hours":9,"minutes":36},{"year":2015,"month":10,"date":6,"hours":14,"minutes":24},{"year":2015,"month":10,"date":6,"hours":19,"minutes":12},
                 {"year":2015,"month":10,"date":7},{"year":2015,"month":10,"date":7,"hours":4,"minutes":48},{"year":2015,"month":10,"date":7,"hours":9,"minutes":36},{"year":2015,"month":10,"date":7,"hours":14,"minutes":24},{"year":2015,"month":10,"date":7,"hours":19,"minutes":12}]}},
       "y": {"field": "lo", "type": "quantitative",
             "axis": {"orient": "right", "labels": false, "title": null, "domain": false, "values": [-7.14, -7.12, -7.1, -7.08, -7.06, -7.04, -7.02]}},
       "y2": {"field": "hi"},
       "color": {"datum": "50% uncertainty", "type": "nominal"}
     }},
    {"data": {"name": "botMed"}, "mark": {"type": "line", "strokeWidth": 2.2},
     "encoding": {
       "x": {"field": "t", "type": "temporal", "axis": null},
       "y": {"field": "v", "type": "quantitative", "axis": null},
       "color": {"datum": "median", "type": "nominal"}
     }},
    {"data": {"name": "botMed"}, "transform": [{"filter": "datum.v == -7.0565"}],
     "mark": {"type": "point", "filled": true, "size": 1444, "opacity": 0},
     "encoding": {
       "x": {"field": "t", "type": "temporal", "axis": null},
       "y": {"field": "v", "type": "quantitative", "axis": null},
       "color": {"datum": "median", "type": "nominal"},
       "shape": {"datum": "median", "type": "nominal",
         "scale": {"domain": ["median", "90% uncertainty", "50% uncertainty"], "range": ["M-1,-0.07H1V0.07H-1Z", "M-1,-0.5H1V0.5H-1Z", "M-1,-0.5H1V0.5H-1Z"]},
         "legend": {"orient": "bottom-left", "offset": 12, "padding": 3.5, "labelFontSize": 18.5, "symbolSize": 1444, "clipHeight": 22, "symbolOffset": 2.5, "labelOffset": 6.5,
           "encode": {"symbols": {"update": {
             "fill": {"value": {"expr": "datum.value === '90% uncertainty' ? '#bfbfbf' : datum.value === '50% uncertainty' ? '#7f7f7f' : '#000000'"}},
             "opacity": {"value": 1}}}}}}
     }}
  ]
}
]
}
